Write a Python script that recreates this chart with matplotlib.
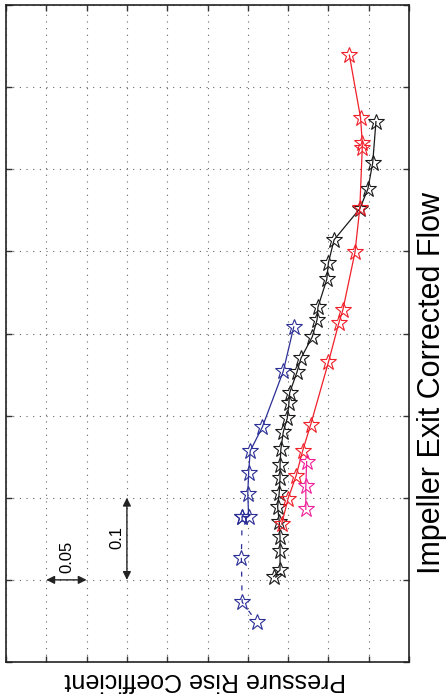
import numpy as np
import matplotlib
matplotlib.use('Agg')
import matplotlib.pyplot as plt

plt.rcParams['font.family'] = ['Liberation Sans', 'DejaVu Sans']

# pressure rise coefficient (x, grows to the left) and corrected flow (y)
p_black = [0.041, 0.045, 0.051, 0.061, 0.093, 0.100, 0.102, 0.113, 0.114, 0.120, 0.134, 0.139, 0.148,
           0.149, 0.151, 0.156, 0.159, 0.160, 0.160, 0.161, 0.163, 0.161, 0.160, 0.160, 0.160, 0.168]
f_black = [0.658, 0.608, 0.576, 0.552, 0.514, 0.486, 0.466, 0.432, 0.417, 0.396, 0.370, 0.353, 0.328,
           0.315, 0.297, 0.280, 0.259, 0.240, 0.224, 0.206, 0.189, 0.171, 0.152, 0.135, 0.112, 0.104]

p_red = [0.074, 0.060, 0.058, 0.058, 0.061, 0.067, 0.082, 0.087, 0.100, 0.122, 0.132, 0.140, 0.150, 0.158]
f_red = [0.739, 0.662, 0.632, 0.626, 0.553, 0.499, 0.429, 0.413, 0.365, 0.289, 0.257, 0.227, 0.199, 0.168]

p_mag = [0.127, 0.128, 0.128]
f_mag = [0.244, 0.214, 0.186]

p_blue = [0.143, 0.156, 0.182, 0.197, 0.199, 0.200, 0.199, 0.207]
f_blue = [0.408, 0.354, 0.286, 0.257, 0.230, 0.205, 0.177, 0.177]

p_blue2 = [0.207, 0.208, 0.207, 0.189]
f_blue2 = [0.177, 0.127, 0.073, 0.049]

blue = '#2b2f96'
red = '#f0202a'
mag = '#f0209a'

fig = plt.figure(figsize=(4.46, 6.98), dpi=100)
ax = fig.add_axes([6/446, 36/698, 403/446, 657/698])

mk = dict(marker='*', markersize=12, markerfacecolor='none', markeredgewidth=0.8)
ax.plot(p_black, f_black, color='#1a1a1a', lw=0.9, **mk)
ax.plot(p_red, f_red, color=red, lw=0.9, **mk)
ax.plot(p_mag, f_mag, color=mag, lw=0.9, **mk)
ax.plot(p_blue, f_blue, color=blue, lw=0.9, **mk)
ax.plot(p_blue2, f_blue2, color=blue, lw=0.9, linestyle=(0, (4, 7)), **mk)

ax.set_xlim(0.5, 0.0)
ax.set_ylim(0.0, 0.8)
ax.set_xticks(np.arange(0, 0.501, 0.05))
ax.set_yticks(np.arange(0, 0.801, 0.1))
ax.set_xticklabels([])
ax.set_yticklabels([])
ax.tick_params(direction='in', length=4, width=1, top=True, right=True, color='#333333')
ax.grid(True, color='#666666', linestyle=(0, (1, 5)), lw=0.8)
for s in ax.spines.values():
    s.set_linewidth(1.2)
    s.set_color('#222222')

# scale bars
ax.annotate('', xy=(0.45, 0.1), xytext=(0.40, 0.1),
            arrowprops=dict(arrowstyle='<|-|>', color='#222222', lw=1.0, shrinkA=0, shrinkB=0,
                            mutation_scale=12))
ax.annotate('', xy=(0.35, 0.1), xytext=(0.35, 0.2),
            arrowprops=dict(arrowstyle='<|-|>', color='#222222', lw=1.0, shrinkA=0, shrinkB=0,
                            mutation_scale=12))
ax.text(0.424, 0.128, '0.05', rotation=90, ha='center', va='center', fontsize=12)
ax.text(0.362, 0.151, '0.1', rotation=90, ha='center', va='center', fontsize=12)

fig.text(205/446, 1 - 680/698, 'Pressure Rise Coefficient', rotation=180,
         ha='center', va='center', fontsize=18)
fig.text(432/446, 1 - 383/698, 'Impeller Exit Corrected Flow', rotation=90,
         ha='center', va='center', fontsize=22)

plt.savefig('out.png', dpi=100)
